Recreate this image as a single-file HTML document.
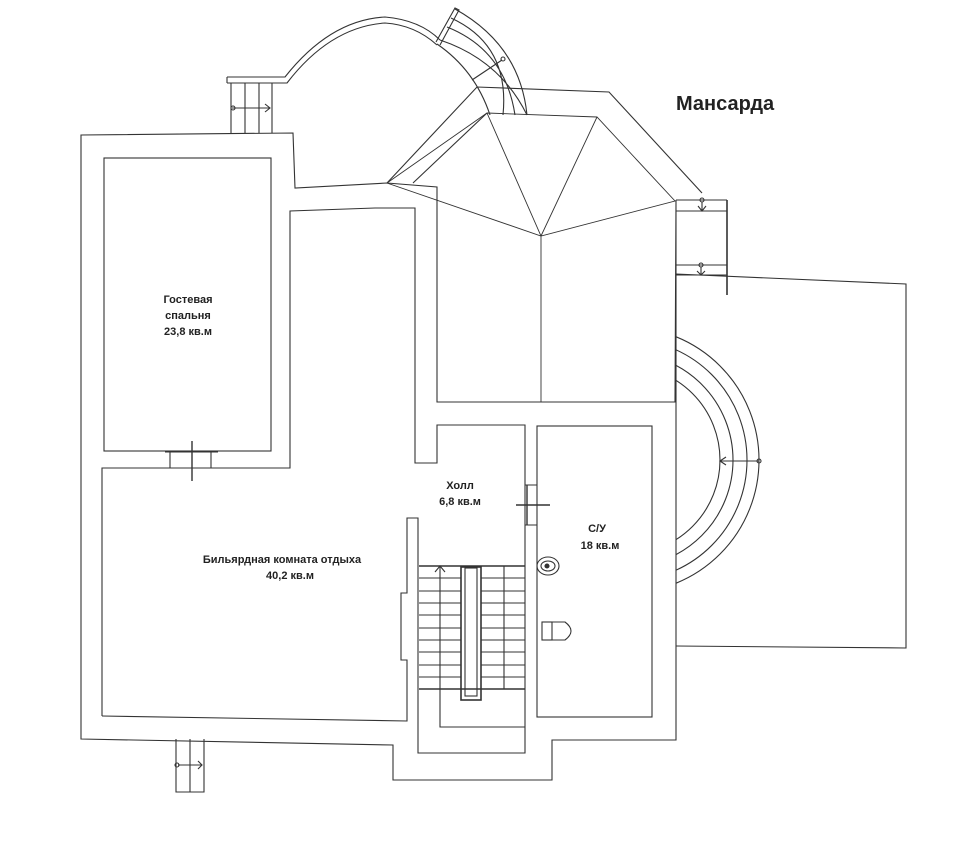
<!DOCTYPE html>
<html><head><meta charset="utf-8"><style>
body{margin:0;background:#fff}
svg{display:block}
text{font-family:"Liberation Sans",sans-serif;font-weight:bold;fill:#222}
</style></head><body>
<svg width="968" height="850" viewBox="0 0 968 850" xmlns="http://www.w3.org/2000/svg">
<defs><clipPath id="cr"><rect x="676" y="300" width="200" height="320"/></clipPath></defs>
<g fill="none" stroke="#333" stroke-width="1.1">
<!-- outer wall -->
<path d="M81,135 L293,133 L295,188 L387,183 L437,187 L437,402 L675,402 L676,200 L676,740 L552,740 L552,780 L393,780 L393,745 L81,739 Z"/>
<!-- guest room -->
<rect x="104" y="158" width="167" height="293"/>
<!-- billiard -->
<path d="M102,716 L102,468 L290,468 L290,211 L375,208 L415,208 L415,463 L437,463 L437,425 L525,425 L525,717"/>
<path d="M102,716 L407,721 L407,660 L401,660 L401,593 L407,593 L407,518 L418,518 L418,753 L525,753 L525,717"/>
<!-- SU -->
<rect x="537" y="426" width="115" height="291"/>
<path d="M525,485 L537,485 M525,525 L537,525"/>
<path d="M516,505 L550,505 M527,485 L527,525" stroke-width="1.4"/>
<!-- stairs -->
<path d="M419,566 L525,566 M419,689 L525,689" stroke-width="1.6"/>
<rect x="461" y="567" width="20" height="133" stroke-width="1.6"/>
<rect x="465" y="568" width="12" height="128"/>
<path d="M419,578 L461,578 M419,591 L461,591 M419,603 L461,603 M419,615 L461,615 M419,628 L461,628 M419,640 L461,640 M419,652 L461,652 M419,665 L461,665 M419,677 L461,677
M481,578 L525,578 M481,591 L525,591 M481,603 L525,603 M481,615 L525,615 M481,628 L525,628 M481,640 L525,640 M481,652 L525,652 M481,665 L525,665 M481,677 L525,677"/>
<path d="M440,566 L440,727 L525,727 M504,566 L504,689"/>
<path d="M435,572 L440,566 L445,572"/>
<!-- sink & toilet -->
<ellipse cx="548" cy="566" rx="11" ry="9"/>
<ellipse cx="548" cy="566" rx="7" ry="5"/>
<circle cx="547" cy="566" r="2" fill="#333"/>
<rect x="542" y="622" width="10" height="18"/>
<path d="M552,622 L565,622 Q577,631 565,640 L552,640"/>
<!-- guest door -->
<path d="M165,452 L218,452 M165,468 L218,468 M170,452 L170,468 M211,452 L211,468"/>
<path d="M192,441 L192,481" stroke-width="1.4"/>
<!-- roof -->
<path d="M387,183 L487,113 L597,117 L675,201 L541,236 Z M487,113 L541,236 L597,117 M387,183 L541,236 M541,236 L541,402" stroke-width="0.9"/>
<path d="M387,183 L477,87 L609,92 L702,193 M413,183 L487,113"/>
<!-- arch -->
<path d="M227,77 L285,77 Q330,20 385,17 Q420,20 440,40 M227,83 L227,77 M227,83 L287,83 Q330,27 385,23 Q415,25 437,45"/>
<path d="M436,42 L455,8 L459,10 L440,45"/>
<path d="M440,40 Q500,60 527,115 M447,27 Q505,50 515,115 M451,18 Q510,45 503,115" />
<path d="M455,9 Q520,45 527,115"/>
<path d="M437,44 Q475,70 490,115"/>
<path d="M472,80 L502,60"/>
<circle cx="503" cy="59" r="2"/>
<!-- little balcony stair -->
<path d="M231,83 L231,133 M245,83 L245,133 M259,83 L259,133 M272,83 L272,133"/>
<path d="M232,108 L270,108 M265,104 L270,108 L265,112"/>
<circle cx="233" cy="108" r="2"/>
<!-- right small block -->
<path d="M676,200 L727,200 M676,211 L727,211 M676,265 L727,265 M676,275 L727,275"/>
<path d="M727,200 L727,295" stroke-width="1.6"/>
<circle cx="702" cy="200" r="2"/><circle cx="701" cy="265" r="2"/>
<path d="M702,202 L702,211 M698,206 L702,211 L706,206 M701,267 L701,275 M697,271 L701,275 L705,271"/>
<!-- right big rect -->
<path d="M676,274 L906,284 L906,648 L676,646"/>
<!-- semicircle stairs -->
<g clip-path="url(#cr)">
<circle cx="626" cy="460" r="94"/><circle cx="626" cy="460" r="107"/><circle cx="626" cy="460" r="121"/><circle cx="626" cy="460" r="133"/>
</g>
<path d="M720,461 L759,461 M726,457 L720,461 L726,465"/>
<circle cx="759" cy="461" r="2"/>
<!-- bottom stair -->
<path d="M176,739 L176,792 L204,792 L204,739 M190,739 L190,792 M178,765 L202,765 M198,761 L202,765 L198,769"/>
<circle cx="177" cy="765" r="2"/>
</g>
<text x="676" y="110" font-size="20">Мансарда</text>
<text x="188" y="303" font-size="11" text-anchor="middle">Гостевая</text>
<text x="188" y="319" font-size="11" text-anchor="middle">спальня</text>
<text x="188" y="335" font-size="11" text-anchor="middle" font-weight="normal">23,8 кв.м</text>
<text x="282" y="563" font-size="11" text-anchor="middle">Бильярдная комната отдыха</text>
<text x="290" y="579" font-size="11" text-anchor="middle">40,2 кв.м</text>
<text x="460" y="489" font-size="11" text-anchor="middle">Холл</text>
<text x="460" y="505" font-size="11" text-anchor="middle">6,8 кв.м</text>
<text x="597" y="532" font-size="11" text-anchor="middle">С/У</text>
<text x="600" y="549" font-size="11" text-anchor="middle">18 кв.м</text>
</svg>
</body></html>
